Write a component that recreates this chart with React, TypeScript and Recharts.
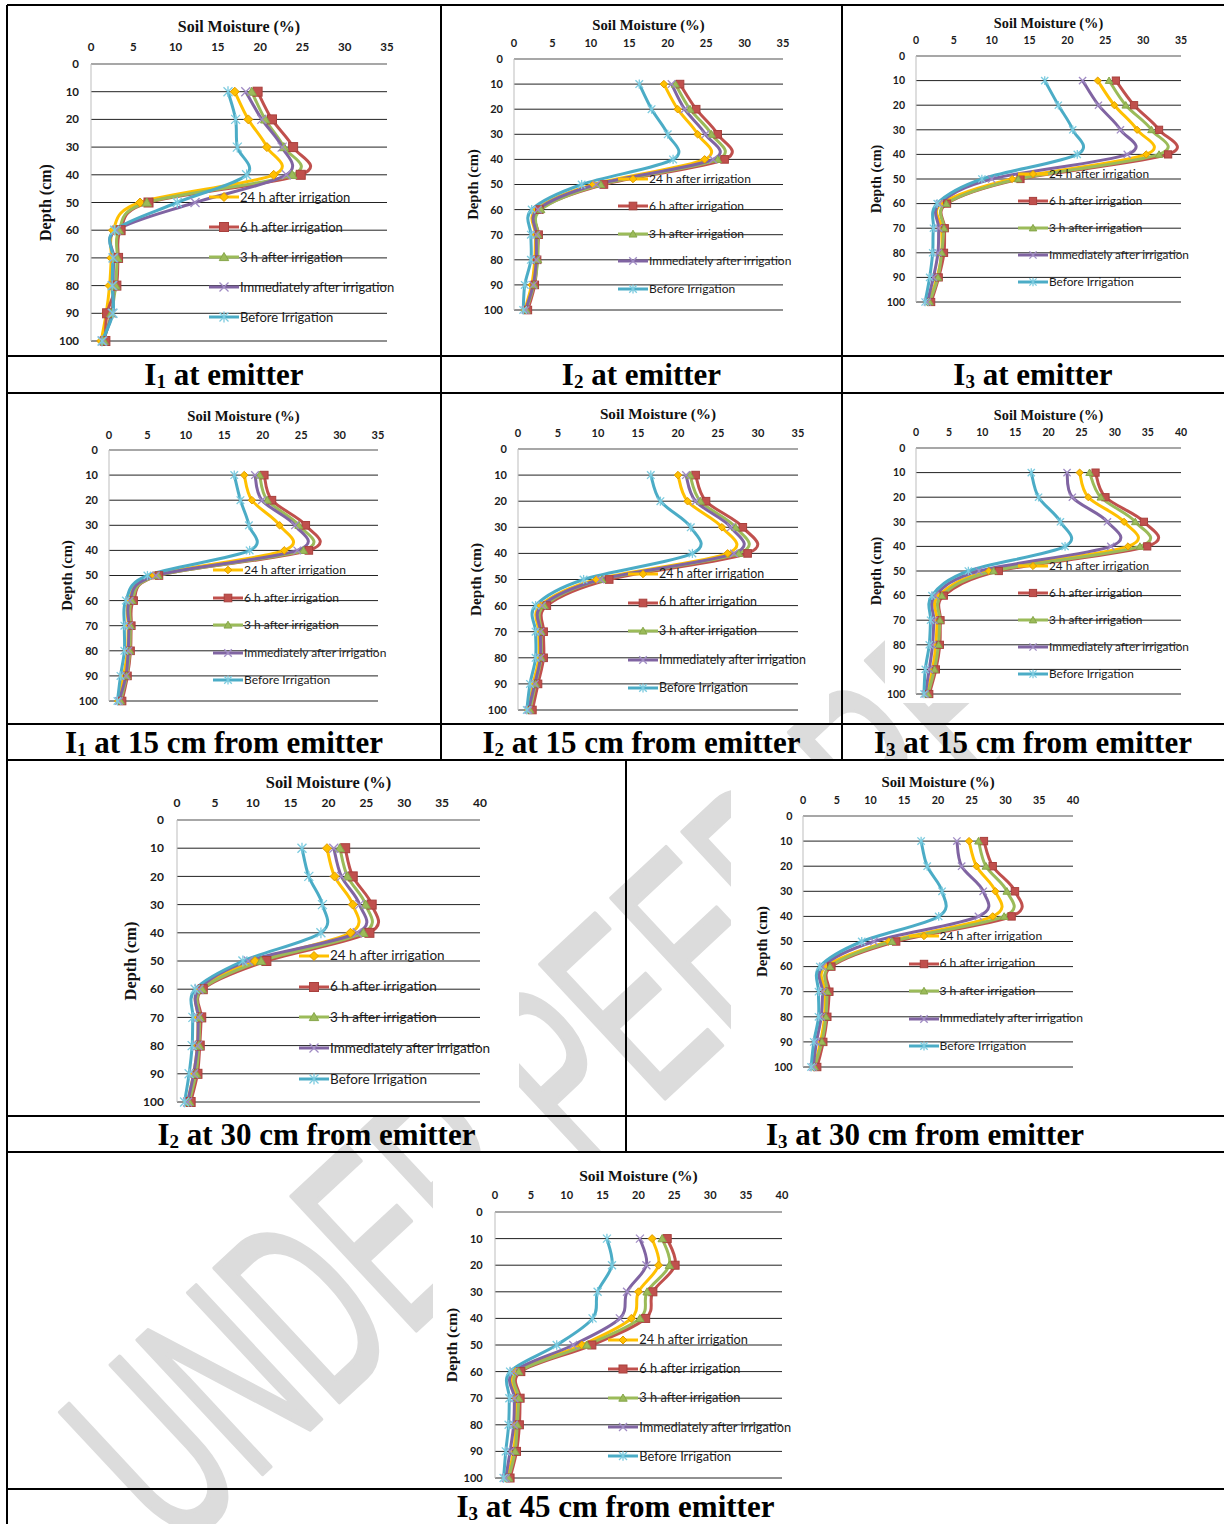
import React from 'react';
import { LineChart, Line, XAxis, YAxis, CartesianGrid, Legend } from 'recharts';

const depths = [10, 20, 30, 40, 50, 60, 70, 80, 90, 100];
const depthTicks = [0, 10, 20, 30, 40, 50, 60, 70, 80, 90, 100];
const ticksTo35 = [0, 5, 10, 15, 20, 25, 30, 35];
const ticksTo40 = [0, 5, 10, 15, 20, 25, 30, 35, 40];

const seriesNames = [
  '24 h after irrigation',
  '6 h after irrigation',
  '3 h after irrigation',
  'Immediately after irrigation',
  'Before Irrigation',
];
const seriesColors = ['#FFC000', '#C0504D', '#9BBB59', '#8064A2', '#4BACC6'];

// one row per series (same order as seriesNames), values at depths 10..100
const i1Emitter = [
  [17.0, 18.6, 20.8, 21.6, 5.8, 2.6, 2.4, 2.2, 1.8, 1.2],
  [19.7, 21.4, 23.9, 24.8, 6.8, 3.5, 3.2, 3.0, 1.9, 1.7],
  [19.0, 20.6, 22.8, 23.8, 6.6, 3.3, 3.1, 2.9, 2.4, 1.5],
  [18.3, 20.2, 22.6, 23.1, 12.3, 3.0, 2.7, 2.6, 2.5, 1.4],
  [16.2, 17.1, 17.3, 18.4, 10.2, 2.8, 2.6, 2.5, 2.6, 1.3],
];
const i2Emitter = [
  [19.5, 21.3, 23.9, 24.8, 10.3, 2.9, 2.8, 2.7, 2.3, 1.4],
  [21.6, 23.7, 26.5, 27.4, 11.7, 3.3, 3.2, 3.0, 2.7, 1.8],
  [21.0, 22.9, 25.7, 26.5, 11.3, 3.5, 3.1, 3.1, 2.6, 1.6],
  [20.5, 22.2, 24.9, 25.9, 10.7, 3.1, 2.9, 2.9, 2.5, 1.5],
  [16.3, 17.9, 20.0, 20.7, 8.8, 2.3, 2.2, 2.2, 1.4, 1.2],
];
const i3Emitter = [
  [24.0, 26.2, 29.2, 30.4, 12.7, 3.4, 3.4, 3.4, 2.8, 1.7],
  [26.4, 28.8, 32.1, 33.3, 13.8, 4.1, 3.8, 3.7, 3.0, 2.0],
  [25.5, 27.7, 31.1, 32.1, 13.5, 4.0, 3.7, 3.4, 2.9, 1.8],
  [22.0, 24.1, 27.0, 27.9, 10.0, 3.1, 3.0, 2.9, 2.3, 1.5],
  [17.0, 18.8, 20.7, 21.3, 8.7, 2.8, 2.3, 2.2, 1.8, 1.2],
];
const i1At15 = [
  [17.6, 18.6, 22.2, 22.8, 5.8, 2.6, 2.5, 2.4, 1.9, 1.2],
  [20.2, 21.2, 25.6, 26.0, 6.5, 3.2, 2.9, 2.8, 2.4, 1.7],
  [19.6, 20.6, 24.7, 25.3, 6.4, 3.0, 2.8, 2.7, 2.3, 1.5],
  [19.0, 19.9, 24.2, 24.5, 6.1, 2.7, 2.6, 2.5, 2.2, 1.3],
  [16.3, 17.1, 18.2, 18.3, 5.0, 2.2, 2.0, 2.0, 1.5, 1.1],
];
const i2At15 = [
  [20.0, 21.2, 25.5, 26.2, 9.8, 2.8, 2.6, 2.6, 1.9, 1.3],
  [22.2, 23.5, 28.1, 28.7, 11.4, 3.6, 3.2, 3.2, 2.5, 1.8],
  [21.5, 22.8, 27.2, 27.6, 10.5, 3.3, 2.9, 2.9, 2.2, 1.5],
  [21.0, 22.2, 26.6, 27.0, 10.3, 3.0, 2.8, 2.8, 2.1, 1.3],
  [16.6, 17.8, 21.6, 21.8, 8.2, 2.2, 2.2, 2.2, 1.5, 1.1],
];
const i3At15 = [
  [24.7, 26.0, 31.4, 32.0, 11.0, 3.4, 3.2, 3.0, 2.5, 1.7],
  [27.1, 28.6, 34.4, 34.9, 12.5, 4.2, 3.7, 3.6, 3.0, 2.0],
  [26.2, 27.9, 33.1, 33.8, 11.7, 3.9, 3.6, 3.4, 2.8, 1.8],
  [22.8, 23.6, 28.9, 29.4, 9.5, 2.9, 2.7, 2.5, 2.0, 1.4],
  [17.4, 18.5, 21.8, 22.5, 7.9, 2.4, 2.2, 2.0, 1.4, 1.2],
];
const i2At30 = [
  [19.8, 20.8, 23.2, 22.9, 10.3, 3.0, 2.8, 2.7, 2.2, 1.4],
  [22.2, 23.2, 25.7, 25.4, 11.8, 3.4, 3.2, 3.0, 2.7, 1.8],
  [21.5, 22.5, 24.9, 24.6, 11.1, 3.3, 3.0, 2.9, 2.5, 1.6],
  [20.7, 21.7, 24.1, 23.8, 9.4, 2.9, 2.8, 2.7, 2.2, 1.4],
  [16.5, 17.4, 19.2, 19.0, 8.7, 2.4, 2.1, 2.0, 1.6, 1.0],
];
const i3At30 = [
  [24.6, 25.7, 28.5, 28.1, 12.7, 3.4, 3.3, 3.2, 2.6, 1.7],
  [26.8, 28.1, 31.4, 30.9, 13.8, 4.2, 3.9, 3.6, 3.0, 2.1],
  [26.0, 27.1, 30.2, 29.8, 13.2, 4.0, 3.6, 3.4, 2.8, 1.7],
  [22.8, 23.5, 26.7, 26.0, 10.5, 2.9, 2.9, 2.7, 2.0, 1.5],
  [17.5, 18.4, 20.6, 20.1, 8.7, 2.5, 2.3, 2.3, 1.6, 1.2],
];
const i3At45 = [
  [21.9, 22.8, 20.0, 19.0, 12.1, 2.9, 3.0, 2.9, 2.6, 1.7],
  [24.0, 25.1, 22.0, 21.0, 13.5, 3.6, 3.5, 3.4, 3.0, 2.1],
  [23.3, 24.3, 21.2, 20.2, 12.8, 3.3, 3.3, 3.1, 2.8, 1.9],
  [20.2, 21.1, 18.4, 17.4, 10.9, 2.6, 2.7, 2.6, 2.1, 1.5],
  [15.6, 16.3, 14.3, 13.6, 8.6, 2.1, 2.0, 1.9, 1.5, 1.2],
];

const watermarkText = 'UNDER PEER REVIEW';

const SERIF = "'Liberation Serif', 'Times New Roman', serif";
const SANS = "Lato, 'Liberation Sans', sans-serif";

// Excel style smoothing: bezier with control points at +-(next - prev)/6
const excelSmooth: any = (context: any) => {
  let pts: number[][] = [];
  return {
    areaStart() {},
    areaEnd() {},
    lineStart() {
      pts = [];
    },
    point(x: number, y: number) {
      pts.push([+x, +y]);
    },
    lineEnd() {
      if (!pts.length) return;
      context.moveTo(pts[0][0], pts[0][1]);
      for (let i = 0; i < pts.length - 1; i++) {
        const p0 = pts[Math.max(i - 1, 0)];
        const p1 = pts[i];
        const p2 = pts[i + 1];
        const p3 = pts[Math.min(i + 2, pts.length - 1)];
        context.bezierCurveTo(
          p1[0] + (p2[0] - p0[0]) / 6,
          p1[1] + (p2[1] - p0[1]) / 6,
          p2[0] - (p3[0] - p1[0]) / 6,
          p2[1] - (p3[1] - p1[1]) / 6,
          p2[0],
          p2[1]
        );
      }
    },
  };
};

const Marker = ({ kind, cx, cy, s }: { kind: number; cx: number; cy: number; s: number }) => {
  if (cx == null || cy == null) return null;
  switch (kind) {
    case 0:
      return (
        <polygon
          points={`${cx},${cy - s} ${cx + s},${cy} ${cx},${cy + s} ${cx - s},${cy}`}
          fill="#FFC000"
          stroke="#E09B00"
          strokeWidth={1}
        />
      );
    case 1:
      return <rect x={cx - s} y={cy - s} width={2 * s} height={2 * s} fill="#C0504D" stroke="#A8403D" strokeWidth={1} />;
    case 2:
      return (
        <polygon
          points={`${cx},${cy - s} ${cx + s * 1.05},${cy + s * 0.8} ${cx - s * 1.05},${cy + s * 0.8}`}
          fill="#9BBB59"
          stroke="#86A64A"
          strokeWidth={1}
        />
      );
    case 3:
      return (
        <g stroke="#A08BC4" strokeWidth={1.3}>
          <line x1={cx - s} y1={cy - s} x2={cx + s} y2={cy + s} />
          <line x1={cx - s} y1={cy + s} x2={cx + s} y2={cy - s} />
        </g>
      );
    default:
      return (
        <g stroke="#7CCBDF" strokeWidth={1.3}>
          <line x1={cx - s} y1={cy - s} x2={cx + s} y2={cy + s} />
          <line x1={cx - s} y1={cy + s} x2={cx + s} y2={cy - s} />
          <line x1={cx} y1={cy - s * 1.2} x2={cx} y2={cy + s * 1.2} />
        </g>
      );
  }
};

type Cfg = {
  cell: { x: number; y: number; w: number; h: number };
  plot: { l: number; t: number; r: number; b: number };
  xMax: number;
  titleY: number;
  yLabelX: number;
  legX: number;
  legY: number;
  legStep: number;
  tickFont: number;
  titleFont: number;
  legendFont: number;
  xTickGap: number;
  yTickGap: number;
  marker: number;
  band: [number, number];
  sub: string;
  caption: string;
};

const charts: { cfg: Cfg; values: number[][] }[] = [
  {
    values: i1Emitter,
    cfg: {
      cell: { x: 7, y: 5, w: 434, h: 351 }, plot: { l: 91, t: 64, r: 387, b: 341 }, xMax: 35,
      titleY: 26.5, yLabelX: 45, legX: 240, legY: 197, legStep: 30,
      tickFont: 11.5, titleFont: 16, legendFont: 13, xTickGap: 17, yTickGap: 12, marker: 4.5,
      band: [356, 393], sub: '1', caption: ' at emitter',
    },
  },
  {
    values: i2Emitter,
    cfg: {
      cell: { x: 441, y: 5, w: 401, h: 351 }, plot: { l: 514, t: 59, r: 783, b: 310 }, xMax: 35,
      titleY: 25, yLabelX: 473, legX: 649, legY: 179, legStep: 27.4,
      tickFont: 11, titleFont: 14.7, legendFont: 12, xTickGap: 15.7, yTickGap: 11, marker: 3.8,
      band: [356, 393], sub: '2', caption: ' at emitter',
    },
  },
  {
    values: i3Emitter,
    cfg: {
      cell: { x: 842, y: 5, w: 382, h: 351 }, plot: { l: 916, t: 56, r: 1181, b: 302 }, xMax: 35,
      titleY: 22.3, yLabelX: 876, legX: 1049, legY: 174, legStep: 26.9,
      tickFont: 10.5, titleFont: 14.3, legendFont: 11.8, xTickGap: 15.3, yTickGap: 11, marker: 3.6,
      band: [356, 393], sub: '3', caption: ' at emitter',
    },
  },
  {
    values: i1At15,
    cfg: {
      cell: { x: 7, y: 393, w: 434, h: 331 }, plot: { l: 109, t: 450, r: 378, b: 701 }, xMax: 35,
      titleY: 415.7, yLabelX: 67, legX: 244, legY: 570.3, legStep: 27.5,
      tickFont: 11, titleFont: 14.7, legendFont: 12, xTickGap: 15, yTickGap: 11, marker: 3.8,
      band: [724, 760], sub: '1', caption: ' at 15 cm from emitter',
    },
  },
  {
    values: i2At15,
    cfg: {
      cell: { x: 441, y: 393, w: 401, h: 331 }, plot: { l: 518, t: 449, r: 798, b: 710 }, xMax: 35,
      titleY: 413.7, yLabelX: 476, legX: 659, legY: 574, legStep: 28.6,
      tickFont: 11, titleFont: 15.2, legendFont: 12.4, xTickGap: 15.7, yTickGap: 11, marker: 3.8,
      band: [724, 760], sub: '2', caption: ' at 15 cm from emitter',
    },
  },
  {
    values: i3At15,
    cfg: {
      cell: { x: 842, y: 393, w: 382, h: 331 }, plot: { l: 916, t: 448, r: 1181, b: 694 }, xMax: 40,
      titleY: 415, yLabelX: 876, legX: 1049, legY: 566.3, legStep: 26.9,
      tickFont: 10.5, titleFont: 14.3, legendFont: 11.8, xTickGap: 15.3, yTickGap: 10.7, marker: 3.6,
      band: [724, 760], sub: '3', caption: ' at 15 cm from emitter',
    },
  },
  {
    values: i2At30,
    cfg: {
      cell: { x: 7, y: 760, w: 619, h: 356 }, plot: { l: 177, t: 820, r: 480, b: 1102 }, xMax: 40,
      titleY: 782, yLabelX: 130, legX: 330, legY: 955.7, legStep: 30.9,
      tickFont: 12, titleFont: 16.4, legendFont: 13.5, xTickGap: 17, yTickGap: 13, marker: 4.5,
      band: [1116, 1152], sub: '2', caption: ' at 30 cm from emitter',
    },
  },
  {
    values: i3At30,
    cfg: {
      cell: { x: 626, y: 760, w: 598, h: 356 }, plot: { l: 803, t: 816, r: 1073, b: 1067 }, xMax: 40,
      titleY: 781.7, yLabelX: 762, legX: 939.5, legY: 936, legStep: 27.5,
      tickFont: 10.7, titleFont: 14.8, legendFont: 12.1, xTickGap: 15.7, yTickGap: 10.5, marker: 3.7,
      band: [1116, 1152], sub: '3', caption: ' at 30 cm from emitter',
    },
  },
  {
    values: i3At45,
    cfg: {
      cell: { x: 7, y: 1152, w: 1217, h: 337 }, plot: { l: 495, t: 1212, r: 782, b: 1478 }, xMax: 40,
      titleY: 1175.3, yLabelX: 451, legX: 639.3, legY: 1339.7, legStep: 29.1,
      tickFont: 11, titleFont: 15.5, legendFont: 12.8, xTickGap: 16.7, yTickGap: 12.3, marker: 4,
      band: [1489, 1523], sub: '3', caption: ' at 45 cm from emitter',
    },
  },
];

// opaque picture areas of the pasted charts (they hide the watermark)
const pictureAreas = [
  [7, 5, 1224, 356],
  [441, 393, 829, 724],
  [7, 393, 441, 724],
  [885, 393, 1224, 703],
  [7, 760, 519, 1116],
  [731, 760, 1224, 1116],
  [433, 1152, 820, 1489],
];

const SoilChart = ({ cfg, values }: { cfg: Cfg; values: number[][] }) => {
  const { cell, plot } = cfg;
  const rows = depths.map((depth, j) => {
    const row: any = { depth };
    values.forEach((v, i) => {
      row[`s${i}`] = v[j];
    });
    return row;
  });
  const tickStyle = { fontSize: cfg.tickFont, fontFamily: SANS, fontWeight: 700, fill: '#1a1a1a' };
  const titleStyle = { fontSize: cfg.titleFont, fontFamily: SERIF, fontWeight: 700, fill: '#111' };
  const iconW = 30;

  const renderLegend = (props: any) => {
    const items = [...(props.payload || [])].sort(
      (a: any, b: any) => seriesNames.indexOf(a.value) - seriesNames.indexOf(b.value)
    );
    return (
      <div>
        {items.map((entry: any) => {
          const idx = seriesNames.indexOf(entry.value);
          return (
            <div key={entry.value} style={{ height: cfg.legStep, display: 'flex', alignItems: 'center' }}>
              <svg width={iconW} height={14} style={{ display: 'block', flex: 'none' }}>
                <line x1={0} x2={iconW} y1={7} y2={7} stroke={seriesColors[idx]} strokeWidth={3} />
                <Marker kind={idx} cx={iconW / 2} cy={7} s={cfg.marker} />
              </svg>
              <span
                style={{
                  fontFamily: SANS,
                  fontSize: cfg.legendFont,
                  color: '#1a1a1a',
                  whiteSpace: 'nowrap',
                  lineHeight: 1,
                  marginLeft: 1,
                }}
              >
                {entry.value}
              </span>
            </div>
          );
        })}
      </div>
    );
  };

  return (
    <div style={{ position: 'absolute', left: cell.x, top: cell.y }}>
      <LineChart
        layout="vertical"
        width={cell.w}
        height={cell.h}
        data={rows}
        margin={{ top: 0, left: 0, right: cell.x + cell.w - plot.r, bottom: cell.y + cell.h - plot.b }}
      >
        <CartesianGrid vertical={false} stroke="#222" strokeWidth={1} />
        <XAxis
          type="number"
          orientation="top"
          domain={[0, cfg.xMax]}
          ticks={cfg.xMax === 35 ? ticksTo35 : ticksTo40}
          interval={0}
          height={plot.t - cell.y}
          axisLine={{ stroke: '#bdbdbd', strokeWidth: 1 }}
          tickLine={false}
          tickSize={0}
          tickMargin={cfg.xTickGap - cfg.tickFont * 0.36}
          tick={tickStyle}
          label={{
            value: 'Soil Moisture (%)',
            position: 'insideTop',
            offset: cfg.titleY - cell.y - cfg.titleFont * 0.34,
            style: titleStyle,
          }}
        />
        <YAxis
          type="number"
          dataKey="depth"
          domain={[0, 100]}
          ticks={depthTicks}
          interval={0}
          width={plot.l - cell.x}
          axisLine={{ stroke: '#bdbdbd', strokeWidth: 1 }}
          tickLine={false}
          tickSize={0}
          tickMargin={cfg.yTickGap}
          tick={tickStyle}
          label={{
            value: 'Depth (cm)',
            angle: -90,
            position: 'insideLeft',
            offset: cfg.yLabelX - cell.x,
            style: { ...titleStyle, textAnchor: 'middle' },
          }}
        />
        <Legend
          verticalAlign="middle"
          align="center"
          content={renderLegend}
          wrapperStyle={{
            left: cfg.legX - cell.x - iconW - 1,
            top: cfg.legY - cell.y - cfg.legStep / 2,
            width: 260,
            height: 'auto',
          }}
        />
        {seriesNames.map((name, i) => (
          <Line
            key={name}
            dataKey={`s${i}`}
            name={name}
            type={excelSmooth}
            stroke={seriesColors[i]}
            strokeWidth={3}
            dot={(p: any) => <Marker key={`${name}-${p.index}`} kind={i} cx={p.cx} cy={p.cy} s={cfg.marker} />}
            activeDot={false}
            isAnimationActive={false}
          />
        ))}
      </LineChart>
    </div>
  );
};

const Caption = ({ cfg }: { cfg: Cfg }) => (
  <div
    style={{
      position: 'absolute',
      left: cfg.cell.x,
      width: cfg.cell.w,
      top: cfg.band[0],
      height: cfg.band[1] - cfg.band[0],
      display: 'flex',
      alignItems: 'center',
      justifyContent: 'center',
      fontFamily: SERIF,
      fontWeight: 700,
      fontSize: 31,
      color: '#000',
      whiteSpace: 'pre',
      lineHeight: 1,
    }}
  >
    <span>
      I<span style={{ fontSize: 19, position: 'relative', top: 3 }}>{cfg.sub}</span>
      {cfg.caption}
    </span>
  </div>
);

const hLines = [
  [5, 7, 1224],
  [356, 7, 1224],
  [393, 7, 1224],
  [724, 7, 1224],
  [760, 7, 1224],
  [1116, 7, 1224],
  [1152, 7, 1224],
  [1489, 7, 1224],
];
const vLines = [
  [7, 5, 1524],
  [441, 5, 760],
  [842, 5, 760],
  [626, 760, 1152],
];

export default function App() {
  return (
    <div style={{ position: 'absolute', left: 0, top: 0, width: 1224, height: 1524, background: '#fff', overflow: 'hidden' }}>
      <svg width={1224} height={1524} style={{ position: 'absolute', left: 0, top: 0 }}>
        <defs>
          <clipPath id="wm-clip">
            <rect x={0} y={0} width={1000} height={1524} />
          </clipPath>
        </defs>
        <g clipPath="url(#wm-clip)">
          <text
            x={0}
            y={0}
            transform="translate(176,1554) rotate(-43) scale(0.55,1)"
            fontFamily="'Liberation Sans', Arial, sans-serif"
            fontSize={265}
            fill="#dcdcdc"
            stroke="#dcdcdc"
            strokeWidth={5}
            strokeLinejoin="round"
          >
            {watermarkText}
          </text>
        </g>
        {pictureAreas.map(([x1, y1, x2, y2], i) => (
          <rect key={`pa${i}`} x={x1} y={y1} width={x2 - x1} height={y2 - y1} fill="#fff" />
        ))}
      </svg>
      {charts.map((c, i) => (
        <SoilChart key={i} cfg={c.cfg} values={c.values} />
      ))}
      {charts.map((c, i) => (
        <Caption key={`cap${i}`} cfg={c.cfg} />
      ))}
      <svg width={1224} height={1524} style={{ position: 'absolute', left: 0, top: 0, pointerEvents: 'none' }}>
        {hLines.map(([y, x1, x2], i) => (
          <line key={`h${i}`} x1={x1} x2={x2} y1={y} y2={y} stroke="#000" strokeWidth={2} />
        ))}
        {vLines.map(([x, y1, y2], i) => (
          <line key={`v${i}`} x1={x} x2={x} y1={y1} y2={y2} stroke="#000" strokeWidth={2} />
        ))}
      </svg>
    </div>
  );
}
